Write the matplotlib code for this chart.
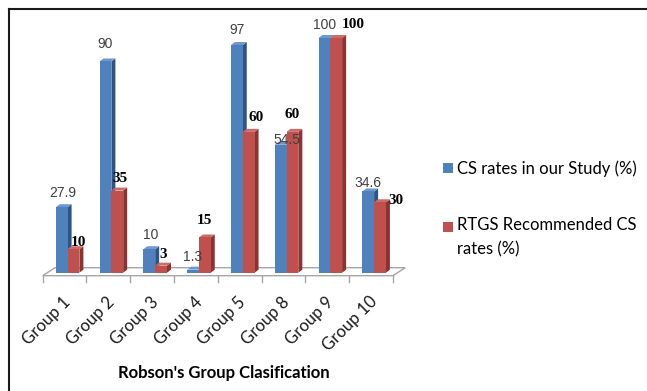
import matplotlib
matplotlib.use("Agg")
import matplotlib.pyplot as plt
from matplotlib.patches import Polygon, Rectangle
from matplotlib.lines import Line2D

# ---- data ----
categories = ["Group 1", "Group 2", "Group 3", "Group 4", "Group 5", "Group 8", "Group 9", "Group 10"]
study_rates = [27.9, 90, 10, 1.3, 97, 54.5, 100, 34.6]
rtgs_rates = [10, 35, 3, 15, 60, 60, 100, 30]
study_labels = ["27.9", "90", "10", "1.3", "97", "54.5", "100", "34.6"]
rtgs_labels = ["10", "35", "3", "15", "60", "60", "100", "30"]
series_names = ["CS rates in our Study (%)", "RTGS Recommended CS\nrates (%)"]
x_title = "Robson's Group Clasification"

# label nudges in pixels (dx, dy above bar top)
study_nudge = [(1, 14), (0, 17), (1, 14), (0, 13), (0, 15), (6, 5), (0, 13), (0, 8)]
rtgs_nudge = [(5, 7), (3, 12), (2, 11), (0, 17), (7, 14), (0, 17), (17, 13), (16, 2)]

W, H = 647, 391
fig = plt.figure(figsize=(W / 100, H / 100), dpi=100)
fig.patch.set_facecolor("white")

# axes mapped so that group boundaries/baseline fall at the reference positions
ax_left, ax_right = 42.7, 393.0
base_y, top_y = 272.7, 38.0
ax = fig.add_axes([ax_left / W, (H - base_y) / H, (ax_right - ax_left) / W, (base_y - top_y) / H])
n = len(categories)
ax.set_xlim(-0.5, n - 0.5)
ax.set_ylim(0, 100)
ax.axis("off")

px_x = (n) / (ax_right - ax_left)      # data units per pixel (x)
px_y = 100 / (base_y - top_y)          # data units per pixel (y)

bar_w = 11.8 * px_x
dx, dy = 4 * px_x, 3 * px_y
blue_off = -8.8 * px_x

colors = {
    "blue": ("#4F81BD", "#2F5384", "#6B98D0"),
    "red": ("#C0504D", "#8A3330", "#D06A67"),
}

# floor
fdx, f_front, f_back = 12.3 * px_x, -3 * px_y, 5 * px_y
floor = Polygon([(-0.5, f_front), (n - 0.5, f_front), (n - 0.5 + fdx, f_back), (-0.5 + fdx, f_back)],
                closed=True, facecolor="white", edgecolor="#A6A6A6", linewidth=1.0, clip_on=False, zorder=1)
ax.add_patch(floor)
for b in range(n + 1):
    ax.add_line(Line2D([b - 0.5, b - 0.5], [f_front, f_front - 6 * px_y], color="#A6A6A6", lw=1.0,
                       clip_on=False, zorder=1))


def bar3d(x0, h, cols, z):
    front, side, top = cols
    ax.add_patch(Polygon([(x0 + bar_w, 0), (x0 + bar_w + dx, dy), (x0 + bar_w + dx, h + dy), (x0 + bar_w, h)],
                         closed=True, facecolor=side, edgecolor="none", clip_on=False, zorder=z))
    ax.add_patch(Polygon([(x0, h), (x0 + dx, h + dy), (x0 + bar_w + dx, h + dy), (x0 + bar_w, h)],
                         closed=True, facecolor=top, edgecolor="none", clip_on=False, zorder=z))
    ax.bar([x0], [h], width=bar_w, align="edge", color=front, edgecolor="none", clip_on=False, zorder=z + 0.1)


for i in range(n):
    xb = i + blue_off
    xr = xb + bar_w
    bar3d(xb, study_rates[i], colors["blue"], 2 + i * 0.01)
    bar3d(xr, rtgs_rates[i], colors["red"], 3 + i * 0.01)

for i in range(n):
    xb = i + blue_off
    xr = xb + bar_w
    ax.annotate(study_labels[i], (xb + bar_w / 2, study_rates[i]), xytext=study_nudge[i],
                textcoords="offset pixels", ha="center", va="center", fontsize=10,
                family="Liberation Sans", color="#404040", zorder=10, annotation_clip=False)
    ax.annotate(rtgs_labels[i], (xr + bar_w / 2, rtgs_rates[i]), xytext=rtgs_nudge[i],
                textcoords="offset pixels", ha="center", va="center", fontsize=11,
                family="Liberation Serif", fontweight="bold", color="black", zorder=10,
                annotation_clip=False)

# category labels
for i, c in enumerate(categories):
    ax.text(i - 2 * px_x, f_front - 18 * px_y, c, rotation=45, rotation_mode="anchor", ha="right", va="top",
            fontsize=12, family="Lato", color="#1A1A1A", clip_on=False)

fig.text(223.5 / W, 1 - 372.7 / H, x_title, ha="center", va="center", fontsize=12,
         family="Lato", fontweight="bold", color="black")

# legend
fig.patches.append(Rectangle((443 / W, 1 - 173 / H), 10 / W, 10 / H, transform=fig.transFigure,
                             facecolor="#4F81BD", edgecolor="none"))
fig.patches.append(Rectangle((443 / W, 1 - 232 / H), 10 / W, 10 / H, transform=fig.transFigure,
                             facecolor="#C0504D", edgecolor="none"))
fig.text(457 / W, 1 - 169 / H, series_names[0], ha="left", va="center", fontsize=12, family="Lato")
fig.text(457 / W, 1 - 217 / H, series_names[1], ha="left", va="top", fontsize=12, family="Lato",
         linespacing=1.6)

# border (top and left)
fig.add_artist(Line2D([9 / W, 9 / W], [0, 1 - 9 / H], color="#1A1A1A", lw=1.5, transform=fig.transFigure))
fig.add_artist(Line2D([9 / W, 1], [1 - 9 / H, 1 - 9 / H], color="#1A1A1A", lw=1.5, transform=fig.transFigure))

fig.savefig("out.png", dpi=100, facecolor="white")
